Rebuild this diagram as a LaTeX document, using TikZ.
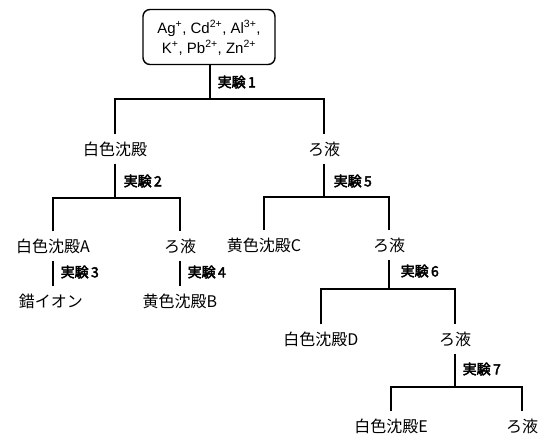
\documentclass[tikz,border=0pt]{standalone}
\usepackage{fontspec}
\setmainfont{Liberation Sans}
\newfontfamily\jp{Noto Sans CJK JP}
\newfontfamily\jpb[FakeBold=3]{Noto Sans CJK JP}
\begin{document}
\begin{tikzpicture}[x=1pt,y=-1pt,
  line width=1.4pt,
  lbl/.style={font=\jp\fontsize{16}{16}\selectfont, inner sep=0pt, minimum height=28pt},
  exp/.style={font=\jpb\fontsize{14}{14}\selectfont, inner sep=0pt, anchor=west},
  startbox/.style={draw, rounded corners=7pt, minimum width=132pt, minimum height=55pt,
    align=center, inner sep=0pt, font=\fontsize{15}{20}\selectfont}]
\useasboundingbox (0,0) rectangle (541,441);
\fill[white] (0,0) rectangle (541,441);
% nodes
\node[startbox] (box) at (209,37) {\rule{0pt}{14pt}Ag\textsuperscript{+}, Cd\textsuperscript{2+}, Al\textsuperscript{3+},\\K\textsuperscript{+}, Pb\textsuperscript{2+}, Zn\textsuperscript{2+}};
\coordinate (j1) at (210,99);
\node[lbl] (n1) at (115,149) {白色沈殿};
\node[lbl] (n6) at (324,149) {ろ液};
\coordinate (j2) at (115,198);
\node[lbl] (n2) at (53,246) {白色沈殿A};
\node[lbl] (n4) at (180,246) {ろ液};
\node[lbl] (n3) at (51,301) {錯イオン};
\node[lbl] (n5) at (180,301) {黄色沈殿B};
\coordinate (j3) at (324,197);
\node[lbl] (n7) at (264,245) {黄色沈殿C};
\node[lbl] (n8) at (389,245) {ろ液};
\coordinate (j4) at (389,289);
\node[lbl] (n9) at (321,339) {白色沈殿D};
\node[lbl] (n10) at (455,339) {ろ液};
\coordinate (j5) at (455,387);
\node[lbl] (n11) at (391,426) {白色沈殿E};
\node[lbl] (n12) at (522,426) {ろ液};
% labels
\node[exp] (e1) at (217,82) {実験\,1};
\node[exp] (e2) at (123,181) {実験\,2};
\node[exp] (e3) at (60,272) {実験\,3};
\node[exp] (e4) at (187,272) {実験\,4};
\node[exp] (e5) at (333,181) {実験\,5};
\node[exp] (e6) at (400,271) {実験\,6};
\node[exp] (e7) at (462,369) {実験\,7};
% connectors
\draw (box.south -| j1) -- (j1);
\draw (n1.north) -- (n1.north |- j1) -- (n6.north |- j1) -- (n6.north);
\draw (n1.south) -- (j2);
\draw (n2.north) -- (n2.north |- j2) -- (n4.north |- j2) -- (n4.north);
\draw (n2.south) -- (n3.north -| n2.south);
\draw (n4.south) -- (n5.north);
\draw (n6.south) -- (j3);
\draw (n7.north) -- (n7.north |- j3) -- (n8.north |- j3) -- (n8.north);
\draw (n8.south) -- (j4);
\draw (n9.north) -- (n9.north |- j4) -- (n10.north |- j4) -- (n10.north);
\draw (n10.south) -- (j5);
\draw (n11.north) -- (n11.north |- j5) -- (n12.north |- j5) -- (n12.north);
\end{tikzpicture}
\end{document}
